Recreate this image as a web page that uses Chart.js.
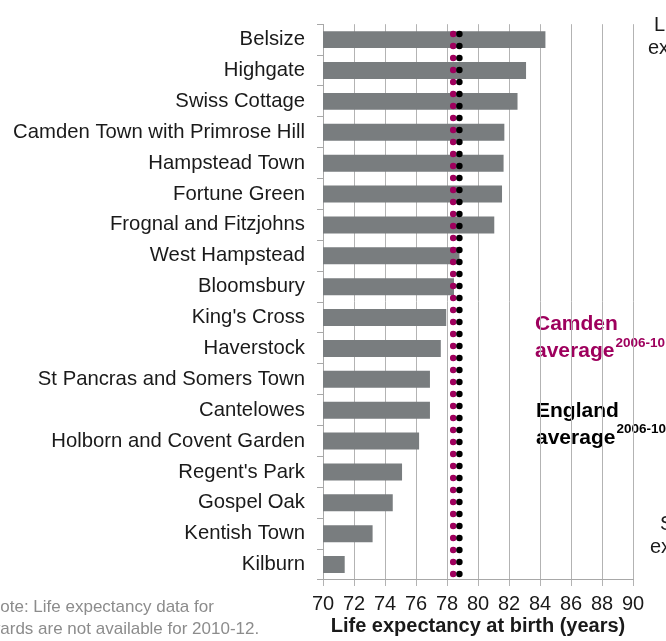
<!DOCTYPE html>
<html>
<head>
<meta charset="utf-8">
<script src="https://cdn.jsdelivr.net/npm/chart.js@4.4.1/dist/chart.umd.min.js"></script>
<style>
  html, body { margin: 0; padding: 0; background: #fff; }
  #wrap { width: 666px; height: 641px; position: relative; }
</style>
</head>
<body>
<div id="wrap"><canvas id="chartLife"></canvas></div>
<script>
// ward life expectancy
const WARDS = [
  "Belsize", "Highgate", "Swiss Cottage", "Camden Town with Primrose Hill",
  "Hampstead Town", "Fortune Green", "Frognal and Fitzjohns", "West Hampstead",
  "Bloomsbury", "King's Cross", "Haverstock", "St Pancras and Somers Town",
  "Cantelowes", "Holborn and Covent Garden", "Regent's Park", "Gospel Oak",
  "Kentish Town", "Kilburn",
];
const LIFE_EXP = [
  84.35, 83.1, 82.55, 81.7, 81.65, 81.55, 81.05, 78.8,
  78.45, 77.95, 77.6, 76.9, 76.9, 76.2, 75.1, 74.5, 73.2, 71.4,
];
const X_MIN = 70;
const X_MAX = 90;
const X_STEP = 2;
const CAMDEN_AVG = 78.4;
const ENGLAND_AVG = 78.8;

const FONT = "'Liberation Sans', Arial, sans-serif";
const COLORS = {
  bar: "#797d7f",
  grid: "#b3b3b3",
  axis: "#a8a8a8",
  text: "#1a1a1a",
  camden: "#9e005d",
  england: "#000000",
  note: "#8c8c8c",
};

// dotted vertical average lines, x from the scale
const avgLines = {
  id: "avgLines",
  afterDatasetsDraw(chart) {
    const { ctx, chartArea, scales } = chart;
    const lines = [
      { value: CAMDEN_AVG, color: COLORS.camden },
      { value: ENGLAND_AVG, color: COLORS.england },
    ];
    ctx.save();
    lines.forEach((l) => {
      const x = scales.x.getPixelForValue(l.value);
      ctx.beginPath();
      ctx.strokeStyle = l.color;
      ctx.lineWidth = 6.5;
      ctx.lineCap = "round";
      ctx.setLineDash([0, 12]);
      ctx.lineDashOffset = 6;
      ctx.moveTo(x, chartArea.bottom);
      ctx.lineTo(x, chartArea.top);
      ctx.stroke();
    });
    ctx.restore();
  },
};

// side labels + note (drawn first so the grid sits over them like in the source)
function drawLabel(ctx, lines, sup, color, x) {
  ctx.fillStyle = color;
  ctx.font = `bold 21px ${FONT}`;
  ctx.fillText(lines[0].text, x, lines[0].y);
  ctx.fillText(lines[1].text, x, lines[1].y);
  const w = ctx.measureText(lines[1].text).width;
  ctx.font = `bold 13.5px ${FONT}`;
  ctx.fillText(sup.text, x + w + 1, sup.y);
}

const sideText = {
  id: "sideText",
  beforeDraw(chart) {
    const ctx = chart.ctx;
    ctx.save();
    ctx.textAlign = "left";
    ctx.textBaseline = "alphabetic";

    drawLabel(ctx, [{ text: "Camden", y: 330 }, { text: "average", y: 357 }],
      { text: "2006-10", y: 347 }, COLORS.camden, 535);
    drawLabel(ctx, [{ text: "England", y: 417 }, { text: "average", y: 444 }],
      { text: "2006-10", y: 433 }, COLORS.england, 536);

    // text cut off at the right edge of the source image
    ctx.fillStyle = COLORS.text;
    ctx.font = `20px ${FONT}`;
    ctx.fillText("Life", 654, 31);
    ctx.fillText("expectancy", 648, 54);
    ctx.fillText("Significantly", 660, 530);
    ctx.fillText("expectancy", 650, 553);

    // note, cut off at the left edge
    ctx.fillStyle = COLORS.note;
    ctx.font = `17px ${FONT}`;
    ctx.fillText("Note: Life expectancy data for", -12, 612);
    ctx.fillText("wards are not available for 2010-12.", -12, 634);
    ctx.restore();
  },
};

const ctx = document.getElementById("chartLife").getContext("2d");
new Chart(ctx, {
  type: "bar",
  data: {
    labels: WARDS,
    datasets: [
      {
        data: LIFE_EXP,
        backgroundColor: COLORS.bar,
        borderWidth: 0,
        barPercentage: 0.55,
        categoryPercentage: 1,
      },
    ],
  },
  options: {
    indexAxis: "y",
    responsive: true,
    maintainAspectRatio: false,
    animation: false,
    layout: { padding: { top: 12.5, right: 33, left: 0, bottom: 0 } },
    plugins: {
      legend: { display: false },
      tooltip: { enabled: false },
    },
    scales: {
      x: {
        min: X_MIN,
        max: X_MAX,
        ticks: {
          stepSize: X_STEP,
          color: COLORS.text,
          font: { family: FONT, size: 20 },
          padding: 6,
          maxRotation: 0,
        },
        grid: { color: COLORS.grid, tickLength: 6, lineWidth: 1 },
        border: { color: COLORS.axis },
        title: {
          display: true,
          text: "Life expectancy at birth (years)",
          color: COLORS.text,
          font: { family: FONT, size: 20, weight: "bold" },
          padding: { top: 0, bottom: 3 },
        },
        afterFit: (s) => { s.height = 61; },
      },
      y: {
        ticks: {
          color: COLORS.text,
          font: { family: FONT, size: 20.3 },
          padding: 12,
        },
        grid: {
          drawOnChartArea: false,
          tickLength: 6,
          color: COLORS.axis,
          offset: true,
        },
        border: { color: COLORS.axis },
        afterFit: (s) => { s.width = 323; },
      },
    },
  },
  plugins: [sideText, avgLines],
});
</script>
</body>
</html>
